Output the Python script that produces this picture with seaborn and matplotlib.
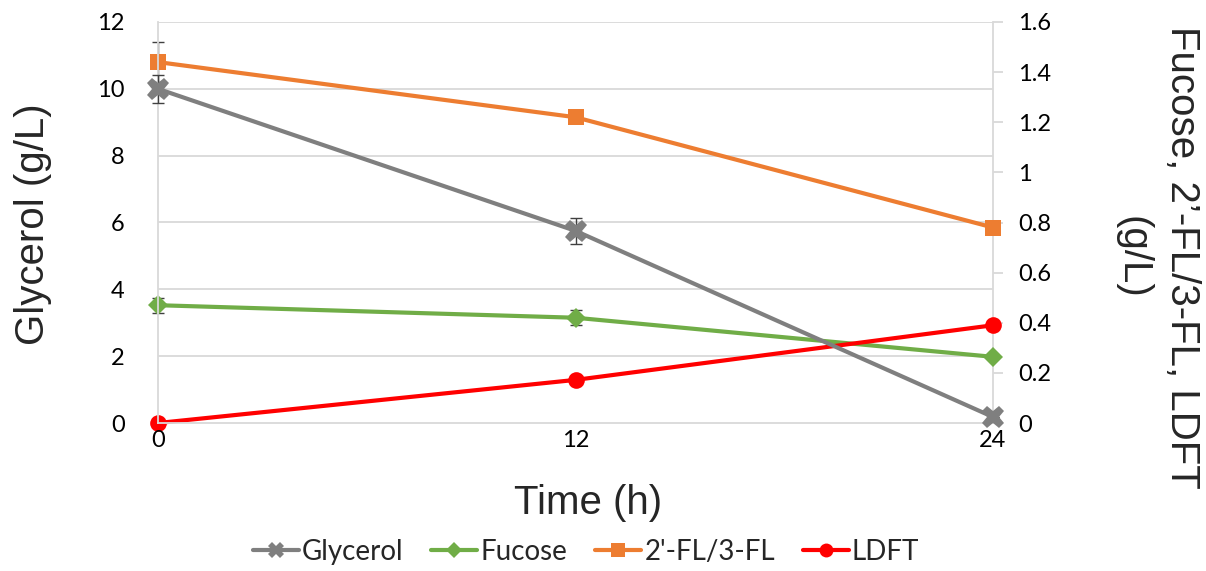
import matplotlib
matplotlib.use("Agg")
import matplotlib.pyplot as plt
import seaborn as sns
import pandas as pd
from matplotlib.lines import Line2D

# Sampling times (h)
time_h = [0, 12, 24]

# Glycerol (left axis, g/L)
glycerol = [10.0, 5.75, 0.18]
glycerol_err = [0.42, 0.39, 0.0]

# Right-axis series (g/L)
fucose = [0.47, 0.42, 0.264]
fucose_err = [0.03, 0.03, 0.0]
fl = [1.44, 1.22, 0.78]
fl_err = [0.08, 0.0, 0.0]
ldft = [0.0, 0.172, 0.39]
ldft_err = [0.0, 0.0, 0.0]

left_ticks = [0, 2, 4, 6, 8, 10, 12]
right_ticks = [0, 0.2, 0.4, 0.6, 0.8, 1, 1.2, 1.4, 1.6]
right_tick_labels = ["0", "0.2", "0.4", "0.6", "0.8", "1", "1.2", "1.4", "1.6"]
x_ticks = [0, 12, 24]

c_gly = "#7f7f7f"
c_fuc = "#70ad47"
c_fl = "#ed7d31"
c_ldft = "#ff0000"
grid_c = "#d9d9d9"

sns.set_theme(style="white")
plt.rcParams["font.family"] = ["Liberation Sans", "DejaVu Sans"]

W, H = 1206, 571
fig = plt.figure(figsize=(W / 100, H / 100), dpi=100)
ax = fig.add_axes([158 / W, 1 - 423 / H, (993 - 158) / W, (423 - 22) / H])
ax2 = ax.twinx()

df = pd.DataFrame({"time": time_h, "glycerol": glycerol, "fucose": fucose,
                   "fl": fl, "ldft": ldft})

ax.set_ylim(0, 12)
ax2.set_ylim(0, 1.6)
ax.set_xlim(0, 24)
ax.set_zorder(2)
ax.patch.set_visible(False)

# horizontal grid lines at the left-axis ticks
for t in left_ticks[1:]:
    ax2.axhline(t * 1.6 / 12, color=grid_c, lw=1.3, zorder=0)

def draw(axis, col, err, color, marker, ms, z):
    sns.lineplot(data=df, x="time", y=col, ax=axis, color=color, lw=3,
                 marker=marker, markersize=ms, markeredgecolor=color,
                 markeredgewidth=0, zorder=z, legend=False, clip_on=False)
    eb = axis.errorbar(df["time"], df[col], yerr=err, fmt="none", ecolor="#404040",
                       elinewidth=1, capsize=4, capthick=1, zorder=z - 0.5)
    for child in eb.get_children():
        child.set_clip_on(False)

draw(ax2, "fucose", fucose_err, c_fuc, "D", 10, 3)
draw(ax2, "ldft", ldft_err, c_ldft, "o", 12, 4)
draw(ax2, "fl", fl_err, c_fl, "s", 12, 5)
draw(ax, "glycerol", glycerol_err, c_gly, "X", 16, 6)

tick_font = ["Lato", "DejaVu Sans"]
ax.set_yticks(left_ticks)
ax.set_yticklabels([str(t) for t in left_ticks], fontsize=17, family=tick_font)
ax2.set_yticks(right_ticks)
ax2.set_yticklabels(right_tick_labels, fontsize=17, family=tick_font)
ax.set_xticks(x_ticks)
ax.set_xticklabels([str(t) for t in x_ticks], fontsize=17, family=tick_font)
ax.set_xlabel("")
ax.set_ylabel("")
ax2.set_ylabel("")

fig.text(588 / W, 1 - 503 / H, "Time (h)", fontsize=29, ha="center", va="center")
fig.text(33 / W, 1 - 224 / H, "Glycerol (g/L)", fontsize=29, rotation=90,
         ha="center", va="center")
fig.text(1157 / W, 1 - 257 / H, "Fucose, 2\u2019-FL/3-FL, LDFT\n(g/L)", fontsize=29,
         rotation=270, ha="center", va="center", linespacing=1.4,
         multialignment="center")

for a in (ax, ax2):
    for s in a.spines.values():
        s.set_visible(False)
for a, side in ((ax, "left"), (ax, "bottom"), (ax2, "right")):
    a.spines[side].set_visible(True)
    a.spines[side].set_color(grid_c)
    a.spines[side].set_linewidth(1.3)

ax.tick_params(axis="y", length=0, pad=24, colors="black")
ax.tick_params(axis="x", length=0, pad=5, colors="black")
ax2.tick_params(axis="y", length=7, width=1.3, color=grid_c, pad=11, direction="out",
                labelcolor="black", right=True)

handles = [
    Line2D([], [], color=c_gly, lw=3, marker="X", ms=11, markeredgewidth=0),
    Line2D([], [], color=c_fuc, lw=3, marker="D", ms=8, markeredgewidth=0),
    Line2D([], [], color=c_fl, lw=3, marker="s", ms=10, markeredgewidth=0),
    Line2D([], [], color=c_ldft, lw=3, marker="o", ms=10, markeredgewidth=0),
]
labels = ["Glycerol", "Fucose", "2'-FL/3-FL", "LDFT"]
fig.legend(handles, labels, loc="center", bbox_to_anchor=(586 / W, 1 - 552 / H),
           ncol=4, frameon=False, prop={"family": tick_font, "size": 20},
           handlelength=1.65, handletextpad=0.12, columnspacing=1.0)

fig.savefig("out.png", dpi=100)
